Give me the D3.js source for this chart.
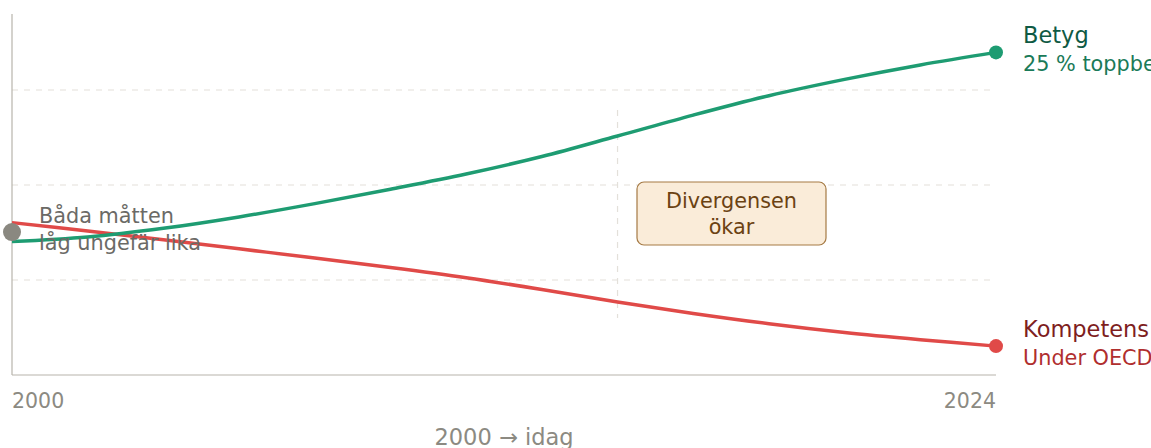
<!DOCTYPE html>
<html>
<head>
<meta charset="utf-8">
<script src="https://cdn.jsdelivr.net/npm/d3@7"></script>
<style>
  body { margin: 0; background: #fff; }
  svg { display: block; font-family: "DejaVu Sans", sans-serif; }
</style>
</head>
<body>
<svg width="1151" height="448"></svg>
<script>
// points along 2000 -> today, evenly spaced
let steps = d3.range(14);
let betyg = [35.1, 36.3, 38.6, 41.6, 45.1, 48.9, 52.9, 57.5, 62.9, 68.4, 73.5, 77.8, 81.6, 84.9];
let kompetens = [40.1, 37.9, 35.6, 33.2, 30.8, 28.3, 25.6, 22.5, 19.2, 16.2, 13.5, 11.2, 9.3, 7.6];
let gridValues = [25, 50, 75];
let tickLabels = ["2000", "2024"];
let divergeStep = 8;

let svg = d3.select("svg");

let x = d3.scaleLinear().domain([0, 13]).range([12, 996]);
let y = d3.scaleLinear().domain([0, 100]).range([375, -5]);

// grid
svg.append("g").selectAll("line")
    .data(gridValues)
    .enter().append("line")
    .attr("x1", x(0)).attr("x2", 990)
    .attr("y1", d => y(d)).attr("y2", d => y(d))
    .attr("stroke", "#e3e0da")
    .attr("stroke-width", 1.2)
    .attr("stroke-dasharray", "6 6");

// axes
svg.append("line")
    .attr("x1", x(0)).attr("x2", x(0))
    .attr("y1", y(95)).attr("y2", y(0))
    .attr("stroke", "#b8b4ac").attr("stroke-width", 1.2);
svg.append("line")
    .attr("x1", x(0)).attr("x2", x(13))
    .attr("y1", y(0)).attr("y2", y(0))
    .attr("stroke", "#b8b4ac").attr("stroke-width", 1.2);

svg.append("text")
    .attr("x", x(0)).attr("y", 408)
    .attr("fill", "#8c8a82").style("font-size", "20.5px")
    .text(tickLabels[0]);
svg.append("text")
    .attr("x", x(13)).attr("y", 408)
    .attr("text-anchor", "end")
    .attr("fill", "#8c8a82").style("font-size", "20.5px")
    .text(tickLabels[1]);
svg.append("text")
    .attr("x", (x(0) + x(13)) / 2).attr("y", 445)
    .attr("text-anchor", "middle")
    .attr("fill", "#8c8a82").style("font-size", "22.5px")
    .text("2000 → idag");

// divergence marker
svg.append("line")
    .attr("x1", x(divergeStep)).attr("x2", x(divergeStep))
    .attr("y1", 110).attr("y2", 318)
    .attr("stroke", "#e3e0da")
    .attr("stroke-width", 1.2)
    .attr("stroke-dasharray", "6 6");

let line = d3.line()
    .x((d, i) => x(steps[i]))
    .y(d => y(d))
    .curve(d3.curveCatmullRom.alpha(0.5));

svg.append("path").datum(kompetens)
    .attr("d", line)
    .attr("fill", "none")
    .attr("stroke", "#e04a48")
    .attr("stroke-width", 3.5);
svg.append("path").datum(betyg)
    .attr("d", line)
    .attr("fill", "none")
    .attr("stroke", "#1e9c72")
    .attr("stroke-width", 3.5);

// end dots
svg.append("circle").attr("cx", x(13)).attr("cy", y(betyg[13])).attr("r", 7).attr("fill", "#1e9c72");
svg.append("circle").attr("cx", x(13)).attr("cy", y(kompetens[13])).attr("r", 7).attr("fill", "#e04a48");
svg.append("circle").attr("cx", x(0)).attr("cy", y((betyg[0] + kompetens[0]) / 2)).attr("r", 9).attr("fill", "#8a8880");

// start note
let note = svg.append("text")
    .attr("fill", "#6b6a66").style("font-size", "20.8px");
note.append("tspan").attr("x", 39).attr("y", 223).text("Båda måtten");
note.append("tspan").attr("x", 39).attr("y", 250).text("låg ungefär lika");

// end labels
svg.append("text").attr("x", 1023).attr("y", 43)
    .attr("fill", "#0f5a44").style("font-size", "22.5px").text("Betyg");
svg.append("text").attr("x", 1023).attr("y", 71)
    .attr("fill", "#1a7a58").style("font-size", "20.8px").text("25 % toppbetyg");
svg.append("text").attr("x", 1023).attr("y", 337)
    .attr("fill", "#7e1e1e").style("font-size", "22.5px").text("Kompetens");
svg.append("text").attr("x", 1023).attr("y", 365)
    .attr("fill", "#b02e2e").style("font-size", "20.8px").text("Under OECD-snitt");

// callout box
svg.append("rect")
    .attr("x", 637).attr("y", 182)
    .attr("width", 189).attr("height", 63)
    .attr("rx", 7)
    .attr("fill", "#faecd9")
    .attr("stroke", "#a57a45")
    .attr("stroke-width", 1.2);
let box = svg.append("text")
    .attr("text-anchor", "middle")
    .attr("fill", "#6b4212").style("font-size", "20.8px");
box.append("tspan").attr("x", 731.5).attr("y", 208).text("Divergensen");
box.append("tspan").attr("x", 731.5).attr("y", 234).text("ökar");
</script>
</body>
</html>
